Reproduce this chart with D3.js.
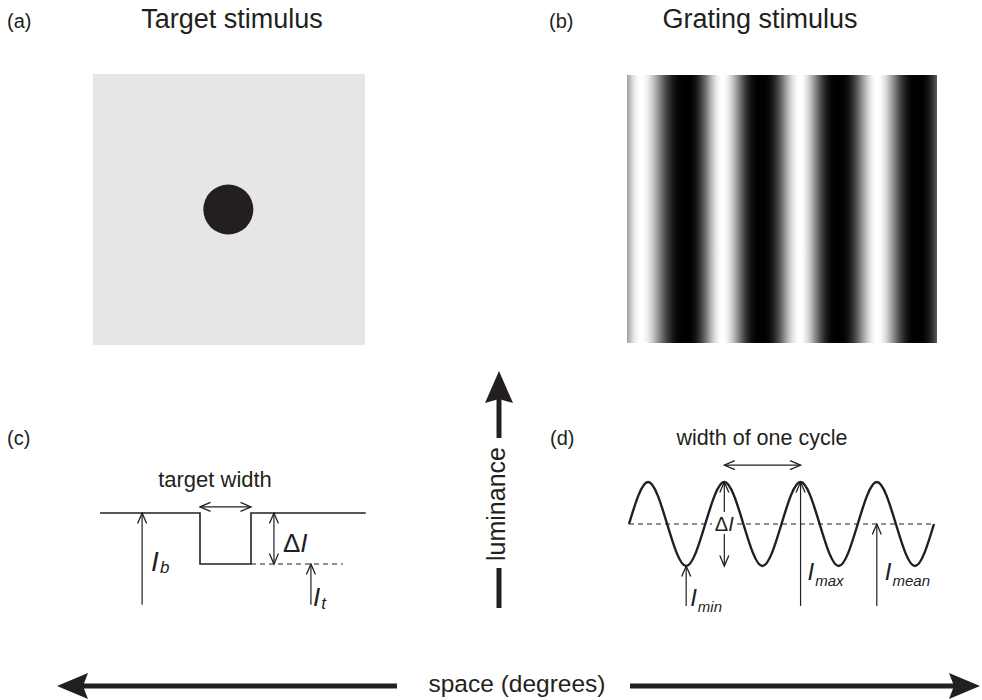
<!DOCTYPE html>
<html><head><meta charset="utf-8">
<script src="https://cdn.jsdelivr.net/npm/d3@7"></script>
<style>
body{margin:0;background:#fff}
svg{display:block}
text{font-family:"Liberation Sans",Arial,Helvetica,sans-serif;fill:#231f20}
</style>
</head><body>
<script>
// ---------------- data ----------------
const panelLabels = ["(a)", "(b)", "(c)", "(d)"];
const panelTitles = ["Target stimulus", "Grating stimulus"];
// panel (a): square stimulus in units [-1,1], dark disc at centre
const targetDisc = [{cx: -0.005, cy: 0.0, r: 0.184}];
// panel (b): grating luminance extrema (position in cycles, luminance 0..1)
const gratingPeaks = [0.18, 1.23, 2.23, 3.23, 4.26];
const gratingTroughs = [-0.32, 0.76, 1.73, 2.72, 3.75];
// panel (c): luminance profile of target (x in target half-widths, y: 0 = It, 1 = Ib)
const profileX = [-4.92, -1, -1, 1, 1, 5.5];
const profileY = [1, 1, 0, 0, 1, 1];
const dashedTarget = [1, 4.6];
const arrowIb = {x: -3.27, y0: -0.8, y1: 1};
const arrowDI_c = {x: 1.9, y0: 0, y1: 1};
const arrowIt = {x: 3.35, y0: -0.8, y1: 0};
const widthArrow_c = {x0: -1, x1: 1, y: 1.12};
// panel (d): sinusoid key points (phase in cycles, value -1..1)
const wavePhase = [0, 0.25, 0.5, 0.75, 1, 1.25, 1.5, 1.75, 2, 2.25, 2.5, 2.75, 3, 3.25, 3.5, 3.75, 4];
const waveValue = [0, 1, 0, -1, 0, 1, 0, -1, 0, 1, 0, -1, 0, 1, 0, -1, 0];
const arrowImin = {x: 0.75, y0: -1.95, y1: -1};
const arrowDI_d = {x: 1.25, y0: -1, y1: 1};
const arrowImax = {x: 2.25, y0: -1.95, y1: 1};
const arrowImean = {x: 3.25, y0: -1.95, y1: 0};
const cycleArrow = {x0: 1.25, x1: 2.25, y: 1.4};
const axisLabels = ["luminance", "space (degrees)"];

// ---------------- setup ----------------
const W = 982, H = 700;
const ink = "#231f20";
const svg = d3.select("body").append("svg").attr("width", W).attr("height", H);
const defs = svg.append("defs");

function marker(id, len, hw) {
  defs.append("marker").attr("id", id)
    .attr("viewBox", `0 0 ${len + 2} ${2 * hw + 2}`)
    .attr("refX", len + 0.5).attr("refY", hw + 1)
    .attr("markerWidth", len + 2).attr("markerHeight", 2 * hw + 2)
    .attr("markerUnits", "userSpaceOnUse")
    .attr("orient", "auto-start-reverse")
    .append("path")
    .attr("d", `M1,1 L${len + 0.5},${hw + 1} L1,${2 * hw + 1}`)
    .attr("fill", "none").attr("stroke", ink).attr("stroke-width", 1.3);
}
marker("ah", 11, 4.5);

// titles & labels
const labelPos = [[7, 28], [549, 28], [7, 445], [550, 445]];
svg.selectAll("text.plabel").data(panelLabels).join("text")
  .attr("class", "plabel")
  .attr("x", (d, i) => labelPos[i][0]).attr("y", (d, i) => labelPos[i][1])
  .attr("font-size", 20).text(d => d);
const titlePos = [[232, 28], [760, 28]];
svg.selectAll("text.title").data(panelTitles).join("text")
  .attr("class", "title")
  .attr("x", (d, i) => titlePos[i][0]).attr("y", (d, i) => titlePos[i][1])
  .attr("text-anchor", "middle").attr("font-size", 27).text(d => d);

// ---------------- panel (a) ----------------
const ax = d3.scaleLinear().domain([-1, 1]).range([93, 365]);
const ay = d3.scaleLinear().domain([-1, 1]).range([74, 345]);
svg.append("rect").attr("x", ax(-1)).attr("y", ay(-1))
  .attr("width", ax(1) - ax(-1)).attr("height", ay(1) - ay(-1)).attr("fill", "#e6e6e6");
svg.selectAll("circle.disc").data(targetDisc).join("circle").attr("class", "disc")
  .attr("cx", d => ax(d.cx)).attr("cy", d => ay(d.cy))
  .attr("r", d => ax(d.r) - ax(0)).attr("fill", ink);

// ---------------- panel (b) ----------------
const bx = d3.scaleLinear().domain([0, 4]).range([627, 937]);
const by = [75, 343];
const extrema = gratingPeaks.map(p => ({p, v: 1})).concat(gratingTroughs.map(p => ({p, v: 0})))
  .sort((a, b) => a.p - b.p);
const grad = defs.append("linearGradient").attr("id", "grating")
  .attr("gradientUnits", "userSpaceOnUse")
  .attr("x1", bx.range()[0]).attr("x2", bx.range()[1]).attr("y1", 0).attr("y2", 0);
const gamma = 1.4;
function lumAt(p) {
  for (let k = 0; k < extrema.length - 1; k++) {
    const a = extrema[k], b = extrema[k + 1];
    if (p >= a.p && p <= b.p) {
      const t = (p - a.p) / (b.p - a.p);
      return a.v + (b.v - a.v) * (1 - Math.cos(Math.PI * t)) / 2;
    }
  }
  return 0.5;
}
const stops = [];
const nStops = 200;
for (let j = 0; j <= nStops; j++) {
  const off = j / nStops;
  const p = bx.domain()[0] + off * (bx.domain()[1] - bx.domain()[0]);
  stops.push({off, g: Math.round(255 * Math.pow(lumAt(p), gamma))});
}
grad.selectAll("stop").data(stops).join("stop")
  .attr("offset", d => d.off)
  .attr("stop-color", d => `rgb(${d.g},${d.g},${d.g})`);
svg.append("rect").attr("x", bx.range()[0]).attr("y", by[0])
  .attr("width", bx.range()[1] - bx.range()[0]).attr("height", by[1] - by[0])
  .attr("fill", "url(#grating)");

// ---------------- panel (c) ----------------
const cx = d3.scaleLinear().domain([-1, 1]).range([200, 251]);
const cy = d3.scaleLinear().domain([0, 1]).range([564, 513]);
const profile = profileX.map((x, i) => [x, profileY[i]]);
svg.append("path").datum(profile)
  .attr("d", d3.line().x(d => cx(d[0])).y(d => cy(d[1])))
  .attr("fill", "none").attr("stroke", ink).attr("stroke-width", 1.6);
svg.append("line").attr("x1", cx(dashedTarget[0])).attr("x2", cx(dashedTarget[1]))
  .attr("y1", cy(0)).attr("y2", cy(0))
  .attr("stroke", ink).attr("stroke-width", 1.2).attr("stroke-dasharray", "5,4");

function vArrow(sx, sy, a, both) {
  const l = svg.append("line").attr("x1", sx(a.x)).attr("x2", sx(a.x))
    .attr("y1", sy(a.y0)).attr("y2", sy(a.y1))
    .attr("stroke", ink).attr("stroke-width", 1.2)
    .attr("marker-end", "url(#ah)");
  if (both) l.attr("marker-start", "url(#ah)");
  return l;
}
function hArrow(sx, sy, a) {
  svg.append("line").attr("x1", sx(a.x0)).attr("x2", sx(a.x1))
    .attr("y1", sy(a.y)).attr("y2", sy(a.y))
    .attr("stroke", ink).attr("stroke-width", 1.2)
    .attr("marker-end", "url(#ah)").attr("marker-start", "url(#ah)");
}
vArrow(cx, cy, arrowIb, false);
vArrow(cx, cy, arrowDI_c, true);
vArrow(cx, cy, arrowIt, false);
hArrow(cx, cy, widthArrow_c);
svg.append("text").attr("x", 215).attr("y", 487).attr("text-anchor", "middle")
  .attr("font-size", 22).text("target width");

function symbol(x, y, size, main, sub, subSize, dy) {
  const t = svg.append("text").attr("x", x).attr("y", y).attr("font-size", size);
  t.append("tspan").attr("font-style", "italic").text(main);
  if (sub) t.append("tspan").attr("font-size", subSize).attr("font-style", "italic")
    .attr("dx", 1).attr("dy", dy).text(sub);
  return t;
}
symbol(cx(arrowIb.x) + 9, 571, 28, "I", "b", 17, 2);
{
  const t = svg.append("text").attr("x", cx(arrowDI_c.x) + 9).attr("y", 552).attr("font-size", 26);
  t.append("tspan").text("Δ");
  t.append("tspan").attr("font-style", "italic").text("I");
}
symbol(cx(arrowIt.x) + 2, 606, 26, "I", "t", 17, 3);

// ---------------- panel (d) ----------------
const dx = d3.scaleLinear().domain([0, 4]).range([629, 934]);
const dy = d3.scaleLinear().domain([-1, 1]).range([566, 482]);
svg.append("line").attr("x1", dx(0)).attr("x2", dx(4)).attr("y1", dy(0)).attr("y2", dy(0))
  .attr("stroke", ink).attr("stroke-width", 1.2).attr("stroke-dasharray", "5,4");
const wave = wavePhase.map((p, i) => [p, waveValue[i]]);
svg.append("path").datum(wave)
  .attr("d", d3.line().x(d => dx(d[0])).y(d => dy(d[1])).curve(d3.curveNatural))
  .attr("fill", "none").attr("stroke", ink).attr("stroke-width", 2.4);
vArrow(dx, dy, arrowImin, false);
vArrow(dx, dy, arrowDI_d, true);
vArrow(dx, dy, arrowImax, false);
vArrow(dx, dy, arrowImean, false);
hArrow(dx, dy, cycleArrow);
// ΔI label with white backing
svg.append("rect").attr("x", 712).attr("y", 512).attr("width", 23).attr("height", 22).attr("fill", "#fff");
{
  const t = svg.append("text").attr("x", dx(arrowDI_d.x)).attr("y", 531)
    .attr("text-anchor", "middle").attr("font-size", 20);
  t.append("tspan").text("Δ");
  t.append("tspan").attr("font-style", "italic").text("I");
}
svg.append("text").attr("x", 762).attr("y", 445)
  .attr("text-anchor", "middle").attr("font-size", 21.5).text("width of one cycle");
symbol(dx(arrowImin.x) + 4, 606, 24, "I", "min", 15, 6);
symbol(dx(arrowImax.x) + 7, 580, 24, "I", "max", 15, 6);
symbol(dx(arrowImean.x) + 8, 580, 24, "I", "mean", 15, 6);

// ---------------- axis arrows ----------------
function fatHead(tipX, tipY, dirX, dirY, len, hw, notch) {
  const px = -dirY, py = dirX;
  const bx0 = tipX - dirX * len, by0 = tipY - dirY * len;
  const nx = tipX - dirX * (len - notch), ny = tipY - dirY * (len - notch);
  return `M${tipX},${tipY} L${bx0 + px * hw},${by0 + py * hw} L${nx},${ny} L${bx0 - px * hw},${by0 - py * hw} Z`;
}
// luminance (vertical)
const lumX = 499;
svg.append("line").attr("x1", lumX).attr("x2", lumX).attr("y1", 396).attr("y2", 438)
  .attr("stroke", ink).attr("stroke-width", 5);
svg.append("line").attr("x1", lumX).attr("x2", lumX).attr("y1", 568).attr("y2", 608)
  .attr("stroke", ink).attr("stroke-width", 5);
svg.append("path").attr("d", fatHead(lumX, 371, 0, -1, 32, 14, 4)).attr("fill", ink);
svg.append("text").attr("transform", `translate(${lumX + 6},504) rotate(-90)`)
  .attr("text-anchor", "middle").attr("font-size", 25).text(axisLabels[0]);
// space (horizontal)
const spY = 686;
svg.append("line").attr("x1", 82).attr("x2", 397).attr("y1", spY).attr("y2", spY)
  .attr("stroke", ink).attr("stroke-width", 5);
svg.append("line").attr("x1", 630).attr("x2", 955).attr("y1", spY).attr("y2", spY)
  .attr("stroke", ink).attr("stroke-width", 5);
svg.append("path").attr("d", fatHead(57, spY, -1, 0, 31, 13, 5)).attr("fill", ink);
svg.append("path").attr("d", fatHead(980, spY, 1, 0, 31, 13, 5)).attr("fill", ink);
svg.append("text").attr("x", 517).attr("y", 692).attr("text-anchor", "middle")
  .attr("font-size", 24.5).text(axisLabels[1]);
</script>
</body></html>
